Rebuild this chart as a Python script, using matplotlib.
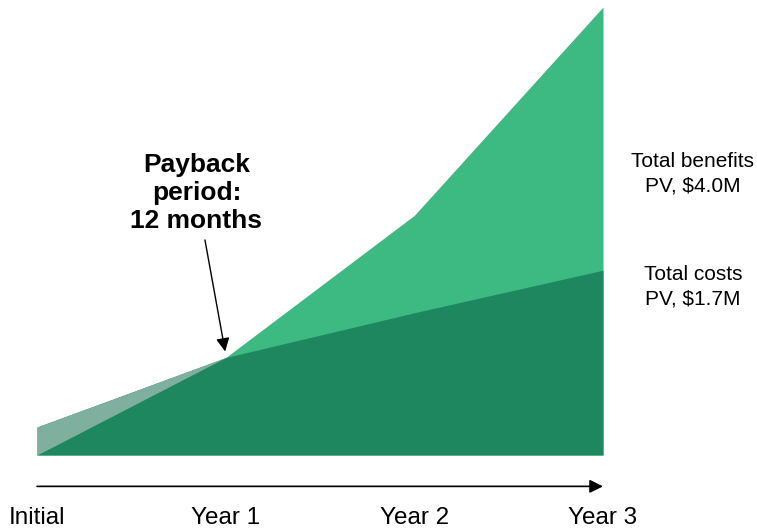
import matplotlib
matplotlib.use("Agg")
import matplotlib.pyplot as plt
import numpy as np

plt.rcParams['font.family'] = ['Liberation Sans', 'DejaVu Sans']

# cumulative values ($M)
periods = ['Initial', 'Year 1', 'Year 2', 'Year 3']
benefits = [0.0, 0.87, 2.14, 4.0]
costs = [0.25, 0.87, 1.27, 1.65]

benefit_color = '#3DB982'
cost_color = '#1F8760'
gap_color = '#7EAF9F'

W, H = 757, 531
fig = plt.figure(figsize=(W / 100, H / 100), dpi=100)
ax = fig.add_axes([37 / W, (H - 455) / H, 566 / W, 448 / H])

x = np.arange(len(periods))
b = np.array(benefits)
c = np.array(costs)

ax.fill_between(x, 0, b, color=benefit_color, lw=0)
ax.fill_between(x, 0, c, color=cost_color, lw=0)
ax.fill_between(x, b, c, where=c > b, interpolate=True, color=gap_color, lw=0)
ax.axhline(0, color='#D9D9D9', lw=1.5, zorder=0)

ax.set_xlim(0, 3)
ax.set_ylim(0, 4.0)
ax.axis('off')

# timeline arrow with period labels
ax.annotate('', xy=(3.0, -0.28), xytext=(0, -0.28),
            arrowprops=dict(arrowstyle='-|>', color='black', lw=1.2,
                            mutation_scale=20, shrinkA=0, shrinkB=0),
            annotation_clip=False)
for i, p in enumerate(periods):
    ax.text(i, -0.56, p, ha='center', va='center', fontsize=17.5, clip_on=False)

# payback annotation
ax.annotate('Payback\nperiod:\n12 months', xy=(1.0, 0.9), xytext=(0.845, 2.34),
            ha='center', va='center', fontsize=19, fontweight='bold',
            linespacing=1.22,
            arrowprops=dict(arrowstyle='-|>', color='black', lw=1,
                            mutation_scale=20, shrinkA=3, shrinkB=2),
            annotation_clip=False)

# right-hand totals
ax.text(3.477, 2.51, 'Total benefits\nPV, $4.0M', ha='center', va='center',
        fontsize=15, linespacing=1.38, clip_on=False)
ax.text(3.477, 1.50, 'Total costs\nPV, $1.7M', ha='center', va='center',
        fontsize=15, linespacing=1.38, clip_on=False)

fig.savefig('out.png', dpi=100)
